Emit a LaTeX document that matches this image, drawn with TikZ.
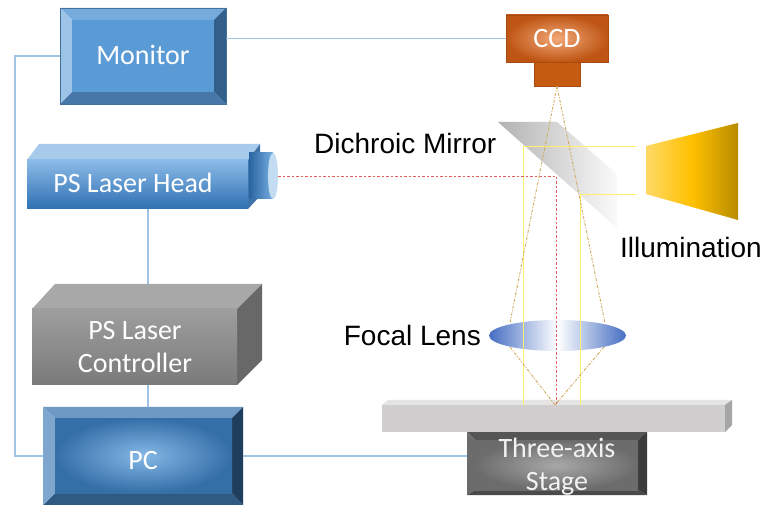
\documentclass[tikz,border=0pt]{standalone}
\usepackage{fontspec}
\setmainfont{Liberation Sans}
\newfontfamily\boxfont{Carlito}
\usetikzlibrary{calc}

% connectors and optical paths
\definecolor{wire}{HTML}{A2C4E4}
\definecolor{laserred}{HTML}{E35D5D}
\definecolor{imggold}{HTML}{D2AA5E}
\definecolor{illumline}{HTML}{FFF06A}
% monitor bevels
\definecolor{montop}{HTML}{76ABDD}
\definecolor{monleft}{HTML}{9DC3E6}
\definecolor{monright}{HTML}{335F8B}
\definecolor{monbottom}{HTML}{4677A8}
\definecolor{monface}{HTML}{5B9BD5}
\definecolor{monedge}{HTML}{41719C}
% PC bevels
\definecolor{pctop}{HTML}{6D99C4}
\definecolor{pcleft}{HTML}{7FA7CD}
\definecolor{pcright}{HTML}{1F3E5E}
\definecolor{pcbottom}{HTML}{2F5A82}
\definecolor{pcin}{HTML}{84B8E6}
\definecolor{pcout}{HTML}{356FA8}
% stage bevels
\definecolor{stgtop}{HTML}{555555}
\definecolor{stgleft}{HTML}{6B6B6B}
\definecolor{stgright}{HTML}{3B3B3B}
\definecolor{stgbottom}{HTML}{4A4A4A}
\definecolor{stgin}{HTML}{A8A8A8}
\definecolor{stgout}{HTML}{6C6C6C}
\definecolor{stgtext}{HTML}{F2F2F2}
% CCD
\definecolor{ccdin}{HTML}{F2A878}
\definecolor{ccdout}{HTML}{BE5514}
\definecolor{ccdbody}{HTML}{C55A11}
\definecolor{ccdedge}{HTML}{A94B0F}
% laser head
\definecolor{headtop}{HTML}{A8CAEB}
\definecolor{headside}{HTML}{3E73A8}
\definecolor{headlight}{HTML}{8CBBE8}
\definecolor{headdark}{HTML}{2E70B2}
\definecolor{cyldark}{HTML}{2864A0}
\definecolor{cyllight}{HTML}{78AFE1}
\definecolor{cylend}{HTML}{C4DCF2}
% controller
\definecolor{ctrltop}{HTML}{A8A8A8}
\definecolor{ctrlside}{HTML}{686868}
\definecolor{ctrllight}{HTML}{9E9E9E}
\definecolor{ctrldark}{HTML}{7A7A7A}
% plate, mirror, illumination, lens
\definecolor{platetop}{HTML}{E4E4E4}
\definecolor{plateside}{HTML}{A6A6A6}
\definecolor{plateface}{HTML}{D0CECE}
\definecolor{mirrordark}{HTML}{B2B2B2}
\definecolor{mirrorlight}{HTML}{FAFAFA}
\definecolor{illumlight}{HTML}{FFD966}
\definecolor{illummid}{HTML}{FFC000}
\definecolor{illumdark}{HTML}{B88C00}
\definecolor{lensblue}{HTML}{466EC3}

% bevelled rectangle: outer x1 y1 x2 y2, inner x1 y1 x2 y2, colour prefix
\newcommand\bevelbox[9]{%
  \fill[#9top]    (#1,#2) -- (#3,#2) -- (#7,#6) -- (#5,#6) -- cycle;
  \fill[#9bottom] (#1,#4) -- (#3,#4) -- (#7,#8) -- (#5,#8) -- cycle;
  \fill[#9left]   (#1,#2) -- (#5,#6) -- (#5,#8) -- (#1,#4) -- cycle;
  \fill[#9right]  (#3,#2) -- (#7,#6) -- (#7,#8) -- (#3,#4) -- cycle;
}

\tikzset{
  wireline/.style={draw=wire, line width=1.3pt},
  laserbeam/.style={draw=laserred, line width=1.1pt, dash pattern=on 2.5pt off 2pt},
  imagingray/.style={draw=imggold, line width=0.9pt, dash pattern=on 3pt off 1.5pt on 1pt off 1.5pt},
  illumray/.style={draw=illumline, line width=1pt},
  boxlabel/.style={text=white, font=\boxfont\fontsize{28}{34}\selectfont, anchor=base, inner sep=0pt},
  caption/.style={text=black, font=\fontsize{28}{34}\selectfont, anchor=base, inner sep=0pt},
  frame/.style={inner sep=0pt, outer sep=0pt, draw=none},
}

\begin{document}
\begin{tikzpicture}[x=1pt,y=-1pt]
\useasboundingbox[fill=white] (0,0) rectangle (764,505);

% ---------------- Monitor ----------------
\bevelbox{60}{8}{226}{104}{72}{20}{214}{92}{mon}
\fill[monface] (72,20) rectangle (214,92);
\draw[monedge, line width=0.6pt] (60,8) rectangle (226,104);
\node[frame, minimum width=166pt, minimum height=96pt] (monitor) at (143,56) {};
\node[boxlabel] (monitor-text) at (143,65) {Monitor};

% ---------------- CCD ----------------
\shade[inner color=ccdin, outer color=ccdout] (506,15) rectangle (608,62);
\draw[ccdedge, line width=0.5pt] (506,15) rectangle (608,62);
\fill[ccdbody] (534,62) rectangle (580,86);
\draw[ccdedge, line width=0.5pt] (534,62) rectangle (580,86);
\node[frame, minimum width=102pt, minimum height=47pt] (ccd) at (557,38.5) {};
\coordinate (ccd-lens) at (557,86);
\node[boxlabel] (ccd-text) at (557,48) {CCD};

% ---------------- PS Laser Head ----------------
\fill[headtop] (27,160) -- (39,144) -- (260,144) -- (248,160) -- cycle;
\fill[headside] (248,160) -- (260,144) -- (260,196) -- (248,209) -- cycle;
\shade[top color=headlight, bottom color=headdark] (27,160) rectangle (248,209);
\shade[left color=cyldark, right color=cyllight] (249,153) rectangle (273,199);
\fill[cylend] (273,176) ellipse [x radius=5, y radius=23];
\node[frame, minimum width=221pt, minimum height=49pt] (head) at (137.5,184.5) {};
\coordinate (head-out) at (278,176.5);
\node[boxlabel] (head-text) at (133,193) {PS Laser Head};

% ---------------- PS Laser Controller ----------------
\fill[ctrltop] (32,309) -- (55,284) -- (262,284) -- (237,309) -- cycle;
\fill[ctrlside] (237,309) -- (262,284) -- (262,360) -- (237,385) -- cycle;
\shade[top color=ctrllight, bottom color=ctrldark] (32,309) rectangle (237,385);
\node[frame, minimum width=205pt, minimum height=76pt] (ctrl) at (134.5,347) {};
\coordinate (ctrl-top) at (148,284);
\node[boxlabel] (ctrl-text1) at (135,340) {PS Laser};
\node[boxlabel] (ctrl-text2) at (135,373) {Controller};

% ---------------- PC ----------------
\bevelbox{43}{407}{243}{505}{55}{418}{232}{493}{pc}
\shade[inner color=pcin, outer color=pcout] (55,418) rectangle (232,493);
\node[frame, minimum width=200pt, minimum height=98pt] (pc) at (143,456) {};
\node[boxlabel] (pc-text) at (143,469) {PC};

% ---------------- Three-axis stage ----------------
\bevelbox{467}{432}{647}{495}{475}{440}{638}{490}{stg}
\shade[inner color=stgin, outer color=stgout] (475,440) rectangle (638,490);
\node[frame, minimum width=180pt, minimum height=63pt] (stage) at (557,463.5) {};
\node[boxlabel, text=stgtext] (stage-text1) at (557,457) {Three-axis};
\node[boxlabel, text=stgtext] (stage-text2) at (557,490) {Stage};

% sample plate on the stage
\fill[platetop] (382,405) -- (388,400) -- (732,400) -- (725,405) -- cycle;
\fill[plateside] (725,405) -- (732,400) -- (732,425) -- (725,432) -- cycle;
\fill[plateface] (382,405) rectangle (725,432);
\node[frame, minimum width=343pt, minimum height=27pt] (plate) at (553.5,418.5) {};

% ---------------- Dichroic mirror ----------------
\shade[left color=mirrordark, right color=mirrorlight]
  (498,122) -- (557,122) -- (617,174) -- (617,228) -- cycle;
\node[caption, anchor=base west] (mirror-text) at (314,154) {Dichroic Mirror};

% ---------------- Illumination ----------------
\shade[left color=illumlight, right color=illumdark, middle color=illummid]
  (646,146) -- (738,123) -- (738,220) -- (646,194) -- cycle;
\node[frame, minimum width=92pt, minimum height=97pt] (illum) at (692,171.5) {};
\node[caption, anchor=base west] (illum-text) at (620,258) {Illumination};

% ---------------- Focal lens ----------------
\shade[left color=lensblue, right color=lensblue, middle color=white]
  (557.5,335.5) ellipse [x radius=68.5, y radius=15.5];
\node[caption, anchor=base east] (lens-text) at (481,346) {Focal Lens};

% ---------------- optical paths ----------------
\coordinate (focus) at (555,405);
\draw[illumray] (636,146.5) -- (523.5,146.5) -- (523.5,405);
\draw[illumray] (636,194.5) -- (580.5,194.5) -- (580.5,405);
\draw[laserbeam] (head-out) -- (556.5,176.5) -- (556.5,405);
\draw[imagingray] (ccd-lens) -- (510,323);
\draw[imagingray] (ccd-lens) -- (605,323);
\draw[imagingray] (510,347) -- (focus);
\draw[imagingray] (604,347) -- (focus);

% ---------------- wiring ----------------
\coordinate (lbus) at (15,0);
\coordinate (vbus) at (148,0);
\draw[wireline] (ccd.west) -- (ccd.west -| monitor.east);
\draw[wireline] (monitor.west) -- (monitor.west -| lbus) -- (pc.west -| lbus) -- (pc.west);
\draw[wireline] (head.south -| vbus) -- (ctrl-top);
\draw[wireline] (ctrl.south -| vbus) -- (pc.north -| vbus);
\draw[wireline] (pc.east) -- (pc.east -| stage.west);
\end{tikzpicture}
\end{document}
